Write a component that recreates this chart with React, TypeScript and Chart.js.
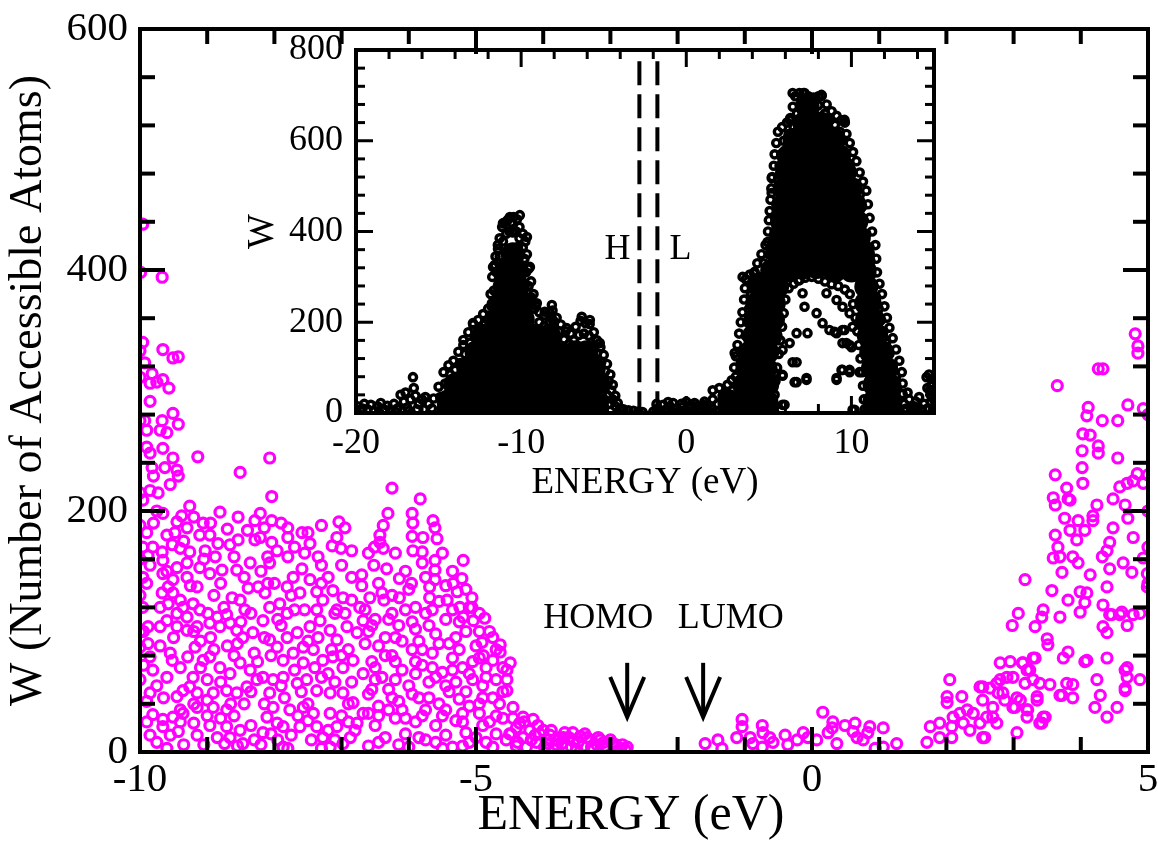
import React, { useEffect, useRef } from 'react';
import { Chart, registerables } from 'chart.js';

Chart.register(...registerables);

const SERIF = "'Liberation Serif', 'Times New Roman', Times, serif";

// ---------------- main plot: axes ----------------
const mainXMajor = [-10, -5, 0, 5];
const mainXMinor = [-9, -8, -7, -6, -4, -3, -2, -1, 1, 2, 3, 4];
const mainYMajor = [0, 200, 400, 600];
const mainYMinor = [40, 80, 120, 160, 240, 280, 320, 360, 440, 480, 520, 560];
const mainXTitle = 'ENERGY (eV)';

// HOMO / LUMO markers (energy in eV, W positions)
const homoArrowE = -2.75;
const lumoArrowE = -1.62;
const arrowTailW = 74;
const arrowTipW = 29;
const homoTextE = -3.18;
const lumoTextE = -1.21;
const levelTextW = 103;

// ---------------- main plot: data [energy, W] ----------------
const leftHigh: number[][] = [
  [-9.96, 438], [-9.99, 398], [-9.67, 394], [-9.96, 340], [-10.0, 333], [-9.66, 334], [-9.51, 327], [-9.43, 328],
  [-9.93, 323], [-10.0, 311], [-9.82, 314], [-9.85, 306], [-9.66, 309], [-9.57, 302], [-9.75, 307], [-9.85, 291],
  [-10.0, 275], [-9.93, 275], [-9.67, 275], [-9.51, 281], [-9.43, 272], [-9.9, 267], [-9.7, 267], [-9.6, 265],
  [-9.9, 253], [-9.66, 252], [-9.85, 248], [-9.51, 244], [-9.14, 245], [-8.07, 244], [-8.51, 232], [-9.82, 236],
  [-9.63, 236], [-9.45, 234], [-9.43, 229], [-9.8, 229], [-9.55, 222], [-10.0, 215], [-9.85, 217], [-9.73, 215],
  [-9.96, 209], [-9.75, 200], [-9.66, 198], [-8.04, 212],
];

const leftCloud: number[][] = [
  [-9.26, 204], [-9.38, 196], [-9.45, 191], [-9.06, 190], [-8.81, 199], [-8.54, 195], [-8.29, 192], [-8.21, 198],
  [-8.04, 192], [-7.8, 186], [-7.59, 182], [-7.5, 182], [-7.04, 191], [-10.0, 188], [-9.9, 182], [-9.48, 182],
  [-9.3, 186], [-9.11, 180], [-8.96, 180], [-8.84, 173], [-8.66, 172], [-8.54, 176], [-8.29, 176], [-8.21, 178],
  [-8.04, 174], [-7.8, 178], [-7.47, 173], [-7.14, 171], [-7.07, 178], [-6.85, 167], [-7.01, 169], [-7.35, 162],
  [-7.96, 167], [-8.1, 162], [-8.07, 157], [-8.36, 157], [-8.56, 151], [-8.78, 151], [-8.88, 162], [-9.03, 167],
  [-9.26, 166], [-9.4, 169], [-9.52, 172], [-9.67, 166], [-9.81, 170], [-9.96, 170], [-9.88, 163], [-9.96, 145],
  [-9.66, 159], [-9.45, 153], [-9.3, 157], [-9.11, 153], [-8.96, 148], [-9.66, 148], [-9.51, 143], [-9.3, 145],
  [-9.15, 137], [-9.58, 137], [-9.67, 132], [-9.51, 132], [-9.4, 126], [-9.58, 123], [-9.36, 120], [-9.21, 123],
  [-9.11, 118], [-8.99, 115], [-8.85, 112], [-8.71, 114], [-8.63, 128], [-8.51, 126], [-8.44, 118], [-8.39, 136],
  [-8.24, 137], [-8.14, 132], [-8.07, 120], [-7.92, 123], [-7.81, 137], [-7.72, 145], [-7.59, 152], [-7.47, 143],
  [-7.62, 132], [-7.37, 133], [-7.28, 126], [-7.13, 134], [-6.98, 128], [-6.85, 126], [-6.73, 120], [-7.07, 118],
  [-7.37, 118], [-7.81, 115], [-9.96, 120], [-9.88, 104], [-9.7, 104], [-9.6, 109], [-9.45, 104], [-9.3, 101],
  [-9.15, 104], [-8.96, 107], [-8.81, 104], [-8.66, 107], [-8.56, 101], [-8.47, 95], [-8.32, 99], [-8.17, 109],
  [-8.07, 93], [-7.96, 87], [-7.81, 95], [-7.66, 99], [-7.57, 87], [-7.47, 104], [-7.32, 109], [-7.17, 101],
  [-7.07, 93], [-6.92, 104], [-6.77, 99], [-6.68, 109], [-7.87, 76], [-7.72, 82], [-7.57, 74], [-7.42, 85],
  [-7.28, 76], [-7.13, 79], [-6.98, 70], [-6.83, 76], [-6.68, 65], [-10.0, 87], [-9.88, 90], [-9.85, 79],
  [-9.81, 68], [-9.55, 82], [-9.52, 76], [-9.29, 79], [-9.18, 87], [-9.06, 76], [-8.96, 79], [-8.81, 70],
  [-8.66, 65], [-8.51, 74], [-8.36, 68], [-8.26, 60], [-8.41, 54], [-8.56, 49], [-8.71, 51], [-8.91, 49],
  [-9.0, 43], [-9.15, 49], [-9.26, 54], [-9.21, 62], [-9.36, 51], [-9.45, 46], [-9.15, 37], [-8.91, 37],
  [-8.71, 35], [-9.36, 32], [-9.51, 29], [-9.66, 27], [-9.81, 31], [-9.66, 21], [-9.43, 17], [-9.15, 14],
  [-8.96, 22], [-8.71, 21], [-8.51, 18], [-8.66, 12], [-8.47, 7], [-8.74, 7], [-9.85, 49], [-8.07, 49],
  [-8.02, 37], [-8.11, 29], [-7.96, 24], [-8.17, 16], [-7.87, 21], [-7.77, 35], [-7.62, 21], [-7.57, 37],
  [-7.42, 32], [-7.37, 21], [-7.28, 12], [-7.17, 32], [-7.07, 21], [-6.98, 7], [-6.87, 12], [-6.77, 24],
  [-6.68, 32], [-6.83, 41], [-6.98, 49], [-7.17, 49], [-7.37, 51], [-7.52, 60], [-7.66, 57], [-7.87, 62],
  [-8.02, 60], [-8.17, 62], [-7.17, 4], [-7.87, 4], [-10.0, 160], [-10.0, 130], [-10.0, 100], [-10.0, 60],
  [-9.9, 140], [-9.7, 120], [-9.5, 95], [-9.3, 112], [-9.1, 92], [-8.9, 130], [-8.7, 88], [-8.5, 108],
  [-8.3, 82], [-8.1, 140], [-7.9, 105], [-7.7, 118], [-7.5, 92], [-7.3, 140], [-7.1, 115], [-6.9, 85],
  [-9.95, 72], [-9.75, 55], [-9.6, 62], [-9.4, 70], [-9.2, 40], [-9.0, 60], [-8.8, 58], [-8.6, 80],
  [-8.45, 40], [-8.25, 75], [-8.05, 80], [-7.85, 45], [-7.7, 68], [-7.5, 40], [-7.3, 62], [-7.1, 58],
  [-6.9, 40], [-9.9, 25], [-9.75, 8], [-9.55, 14], [-9.35, 6], [-9.2, 24], [-9.0, 30], [-8.85, 12],
  [-8.6, 30], [-8.35, 22], [-8.2, 6], [-7.95, 10], [-7.75, 14], [-7.5, 26], [-7.2, 18], [-7.0, 30],
  [-6.8, 18], [-9.8, 190], [-9.6, 180], [-9.35, 175], [-9.2, 195], [-8.95, 190], [-8.7, 185], [-8.4, 184],
  [-8.15, 186], [-7.9, 190], [-7.7, 170], [-7.3, 188], [-6.95, 186], [-9.85, 155], [-9.6, 150], [-9.25, 138],
  [-9.05, 160], [-8.8, 140], [-8.6, 162], [-8.45, 145], [-8.2, 150], [-8.0, 140], [-7.8, 162], [-7.55, 165],
  [-7.3, 155], [-7.2, 145], [-7.0, 155], [-6.85, 145],
  [-9.95, 100], [-9.7, 88], [-9.45, 115], [-9.2, 100], [-8.95, 95], [-8.75, 120], [-8.55, 90], [-8.35, 115],
  [-8.15, 95], [-7.95, 110], [-7.75, 130], [-7.55, 118], [-7.35, 95], [-7.15, 85], [-6.95, 115],
  [-9.9, 42], [-9.65, 45], [-9.4, 35], [-9.1, 70], [-8.9, 85], [-8.65, 40], [-8.35, 50], [-8.15, 40],
  [-7.9, 55], [-7.6, 50], [-7.4, 70], [-7.2, 65], [-7.0, 80], [-6.85, 58],
  [-9.85, 14], [-9.6, 3], [-9.4, 25], [-9.05, 6], [-8.8, 28], [-8.55, 5], [-8.3, 10], [-8.05, 15],
  [-7.8, 3], [-7.65, 30], [-7.45, 10], [-7.3, 3], [-7.1, 10], [-6.9, 25],
];

const midCloud: number[][] = [
  [-6.25, 219], [-5.83, 210], [-6.31, 198], [-6.38, 188], [-6.43, 180], [-6.43, 174], [-6.51, 170], [-6.38, 169],
  [-5.95, 198], [-5.94, 190], [-5.95, 179], [-5.79, 178], [-5.64, 192], [-5.61, 186], [-5.58, 177], [-5.94, 167],
  [-5.8, 166], [-5.8, 157], [-5.61, 159], [-5.19, 159], [-5.21, 144], [-5.61, 151], [-5.61, 143], [-5.34, 140],
  [-5.28, 133], [-5.06, 128], [-5.06, 120], [-4.87, 111], [-6.7, 147], [-6.7, 138], [-6.52, 155], [-6.33, 152],
  [-6.14, 144], [-5.96, 140], [-5.69, 137], [-5.69, 128], [-6.14, 128], [-6.58, 128], [-6.37, 126], [-5.43, 126],
  [-5.24, 120], [-5.19, 112], [-5.04, 109], [-4.91, 91], [-4.89, 80], [-4.64, 89], [-4.64, 83], [-4.49, 74],
  [-4.54, 68], [-4.75, 76], [-4.54, 60], [-4.54, 51], [-4.45, 37], [-4.3, 29], [-4.15, 27], [-4.0, 18],
  [-6.6, 100], [-6.45, 88], [-6.3, 110], [-6.2, 95], [-6.05, 118], [-5.9, 102], [-5.75, 115], [-5.6, 98],
  [-5.45, 110], [-5.3, 95], [-5.15, 100], [-5.0, 88], [-4.85, 70], [-6.55, 75], [-6.4, 62], [-6.25, 80],
  [-6.1, 68], [-5.95, 85], [-5.8, 72], [-5.65, 82], [-5.5, 66], [-5.35, 78], [-5.2, 70], [-5.05, 60],
  [-4.9, 55], [-4.75, 45], [-6.6, 48], [-6.45, 38], [-6.3, 52], [-6.15, 42], [-6.0, 55], [-5.85, 45],
  [-5.7, 58], [-5.55, 40], [-5.4, 50], [-5.25, 44], [-5.1, 38], [-4.95, 32], [-4.8, 25], [-4.65, 40],
  [-6.5, 22], [-6.35, 12], [-6.2, 28], [-6.05, 15], [-5.9, 25], [-5.75, 10], [-5.6, 22], [-5.45, 14],
  [-5.3, 26], [-5.15, 16], [-5.0, 12], [-4.85, 8], [-4.7, 15], [-4.55, 10], [-6.6, 5], [-6.0, 4],
  [-5.5, 3], [-5.2, 5], [-4.4, 5],
  [-6.5, 110], [-6.35, 95], [-6.15, 105], [-5.85, 92], [-5.7, 105], [-5.4, 90], [-5.25, 108], [-4.95, 100],
  [-4.75, 95], [-6.5, 60], [-6.2, 75], [-5.9, 65], [-5.6, 62], [-5.3, 58], [-5.05, 75], [-4.7, 60],
  [-6.45, 30], [-6.1, 35], [-5.8, 30], [-5.5, 30], [-5.2, 32], [-4.9, 22], [-4.6, 28], [-6.6, 165],
  [-6.2, 165], [-6.05, 150], [-5.5, 165], [-5.35, 150], [-5.9, 120], [-5.55, 125], [-6.45, 140], [-6.25, 130],
  [-6.65, 118], [-6.4, 132], [-6.0, 135], [-5.75, 145], [-5.45, 138], [-5.15, 135], [-4.95, 115],
  [-6.55, 105], [-6.25, 115], [-5.95, 108], [-5.65, 118], [-5.35, 118], [-5.1, 120], [-4.8, 100],
  [-6.65, 90], [-6.35, 80], [-6.1, 92], [-5.8, 85], [-5.55, 90], [-5.25, 85], [-4.95, 78], [-4.7, 85],
  [-6.5, 70], [-6.2, 60], [-5.9, 75], [-5.65, 70], [-5.35, 68], [-5.1, 65], [-4.85, 62], [-4.6, 70],
  [-6.55, 52], [-6.25, 45], [-5.95, 48], [-5.7, 45], [-5.45, 55], [-5.15, 50], [-4.9, 45], [-4.6, 50],
  [-6.6, 32], [-6.3, 35], [-6.05, 28], [-5.75, 35], [-5.45, 35], [-5.2, 25], [-4.95, 40], [-4.7, 30],
  [-6.45, 8], [-6.15, 6], [-5.85, 12], [-5.6, 8], [-5.35, 4], [-5.1, 8], [-4.75, 4], [-4.5, 15],
];

const tailBand: number[][] = [
  [-3.75, 12], [-3.56, 16], [-3.35, 12], [-3.15, 10], [-2.96, 7], [-2.75, 4], [-4.4, 20], [-4.3, 12],
  [-4.2, 18], [-4.1, 8], [-4.05, 15], [-3.95, 10], [-3.9, 14], [-3.8, 6], [-3.7, 12], [-3.65, 4],
  [-3.55, 9], [-3.45, 13], [-3.4, 5], [-3.3, 10], [-3.2, 6], [-3.1, 8], [-3.05, 3], [-2.95, 5],
  [-2.85, 3], [-4.25, 4], [-3.85, 2], [-3.5, 2], [-3.25, 2], [-2.9, 1], [-4.45, 28], [-4.35, 24],
  [-4.48, 15], [-4.38, 8], [-4.28, 25], [-4.18, 10], [-4.08, 22], [-3.98, 4], [-3.88, 18], [-3.78, 10],
  [-3.68, 16], [-3.58, 4], [-3.48, 8], [-3.38, 15], [-3.28, 4], [-3.18, 12], [-3.08, 5], [-3.0, 10],
  [-2.92, 6], [-2.82, 6], [-2.78, 2], [-3.62, 12], [-3.72, 7], [-3.92, 7], [-4.12, 14],
];

const gapBand: number[][] = [
  [-1.59, 7], [-1.4, 10], [-1.34, 3], [-1.12, 12], [-1.04, 27], [-1.04, 21], [-0.92, 12], [-0.88, 7],
  [-0.74, 22], [-0.73, 16], [-0.63, 12], [-0.58, 8], [-0.74, 4], [-0.4, 14], [-0.36, 6], [-0.22, 10],
  [-0.13, 16], [-0.06, 12], [0.07, 10], [0.16, 33], [0.24, 16], [0.31, 25], [0.3, 20], [0.37, 7],
  [0.49, 22], [0.64, 24], [0.61, 17], [0.67, 12], [0.76, 10], [0.86, 21], [0.83, 16], [0.94, 3],
  [1.06, 20], [1.06, 4], [1.26, 7],
];

const rightCloud: number[][] = [
  [1.71, 8], [1.76, 21], [1.9, 24], [1.9, 12], [2.01, 46], [2.01, 41], [2.08, 12], [2.05, 60],
  [2.23, 46], [2.1, 29], [2.2, 32], [2.25, 24], [2.31, 35], [2.35, 18], [2.4, 32], [2.5, 54],
  [2.54, 43], [2.57, 12], [2.6, 29], [2.69, 37], [2.69, 29], [2.75, 57], [2.8, 74], [2.84, 49],
  [2.9, 62], [2.95, 75], [2.99, 37], [3.05, 16], [3.1, 43], [3.13, 74], [3.17, 57], [3.21, 35],
  [3.24, 68], [3.32, 78], [3.29, 60], [3.39, 57], [3.35, 46], [3.42, 24], [3.47, 29], [3.54, 56],
  [3.72, 47], [3.79, 57], [3.74, 78], [3.81, 83], [3.88, 56], [3.88, 45], [4.06, 75], [4.21, 37],
  [4.24, 60], [4.29, 47], [4.39, 29], [4.39, 78], [4.54, 37], [4.66, 68], [4.66, 51], [4.69, 62],
  [4.88, 60], [3.07, 115], [2.98, 105], [3.32, 104], [3.44, 118], [3.42, 112], [3.5, 94], [3.51, 89],
  [3.69, 112], [3.99, 116], [4.33, 122], [4.33, 104], [4.39, 99], [4.46, 114], [4.61, 116], [4.69, 105],
  [4.78, 114], [4.88, 115], [4.81, 347], [4.85, 337], [4.85, 331], [4.26, 318], [4.33, 318], [3.65, 304],
  [4.11, 286], [4.09, 279], [4.32, 275], [4.55, 275], [4.7, 288], [4.93, 285], [4.03, 264], [4.14, 263],
  [4.02, 250], [4.26, 254], [4.26, 248], [4.55, 244], [4.02, 236], [4.03, 223], [3.62, 230], [3.79, 219],
  [3.59, 211], [3.62, 205], [3.81, 210], [3.84, 209], [3.76, 194], [3.96, 192], [3.84, 184], [3.94, 176],
  [4.06, 184], [4.18, 192], [4.24, 205], [4.18, 196], [4.48, 210], [4.58, 220], [4.69, 223], [4.78, 225],
  [4.84, 231], [4.93, 223], [4.66, 205], [4.7, 194], [4.78, 178], [4.48, 186], [4.43, 174], [4.39, 167],
  [4.32, 162], [4.43, 152], [4.63, 157], [4.76, 149], [4.93, 161], [4.99, 148], [4.99, 137], [3.62, 180],
  [3.66, 170], [3.69, 162], [3.59, 161], [3.88, 162], [3.96, 157], [3.72, 149], [3.57, 134], [3.81, 126],
  [3.99, 133], [4.09, 132], [4.06, 124], [4.14, 147], [4.39, 137], [4.43, 114], [4.58, 114], [3.17, 143],
  [4.09, 76], [4.69, 70], [4.66, 53], [3.69, 47], [3.29, 78], [3.14, 74], [3.2, 68], [2.99, 62],
  [2.8, 60], [2.54, 54], [2.65, 53], [2.77, 49], [2.87, 43], [3.05, 45], [3.35, 43], [3.02, 37],
  [3.2, 35], [3.2, 29], [3.44, 29], [3.39, 24], [2.54, 12], [2.75, 24], [2.5, 24], [2.08, 21],
  [5.0, 280], [5.0, 230], [5.0, 200], [5.0, 170], [5.0, 140],
];

// ---------------- inset: axes ----------------
const insetXMajor = [-20, -10, 0, 10];
const insetXMinor = [-18, -16, -14, -12, -8, -6, -4, -2, 2, 4, 6, 8, 12, 14];
const insetYMajor = [0, 200, 400, 600, 800];
const insetYMinor = [40, 80, 120, 160, 240, 280, 320, 360, 440, 480, 520, 560, 640, 680, 720, 760];
const homoLineE = -2.84;
const lumoLineE = -1.75;
const levelLineTopW = 775;
const levelLabelW = 340;

// ---------------- inset: data [energy, W] ----------------
const insetBaseline: number[][] = [
  [-19.9, 15], [-19.7, 5], [-19.5, 20], [-19.3, 8], [-19.1, 18], [-18.9, 5], [-18.7, 15], [-18.5, 22],
  [-18.3, 8], [-18.1, 16], [-17.9, 5], [-17.7, 20], [-17.5, 10], [-17.3, 40], [-17.1, 25], [-16.9, 12],
  [-16.7, 30], [-16.55, 79], [-16.5, 55], [-16.4, 38], [-16.2, 20], [-16.0, 30], [-15.8, 35], [-15.6, 20],
  [-15.4, 10], [-16.8, 5], [-17.6, 3], [-18.6, 2], [-19.6, 10], [-20.0, 8], [-15.9, 8], [-17.0, 45],
  [-16.3, 8], [-2.0, 3], [-1.7, 10], [-1.4, 18], [-1.2, 8], [-1.0, 15], [-0.8, 22], [-0.6, 10],
  [-0.4, 5], [-0.2, 14], [0.0, 25], [0.2, 12], [0.4, 5], [0.6, 15], [0.8, 8], [1.0, 18],
  [1.2, 10], [1.4, 4], [-1.5, 2], [0.1, 2], [0.9, 1], [-1.8, 20], [-1.1, 24], [-0.3, 20],
  [0.5, 22], [1.1, 25], [1.3, 18], [-0.9, 5], [0.3, 18],
];

const insetLeftEdge: number[][] = [
  [-15.3, 32], [-15.0, 58], [-14.7, 90], [-14.4, 105], [-14.1, 115], [-13.8, 135], [-13.5, 150], [-13.2, 178],
  [-12.9, 195], [-12.6, 205], [-12.3, 218], [-12.0, 230], [-11.85, 262], [-11.75, 300], [-11.7, 322], [-11.55, 345],
  [-11.4, 362], [-11.3, 385], [-11.15, 410], [-11.0, 420], [-10.8, 426], [-10.6, 420], [-10.45, 432], [-10.25, 427],
  [-10.1, 410], [-9.9, 395], [-9.75, 378], [-9.65, 350], [-9.55, 318], [-9.4, 290], [-9.25, 262], [-9.1, 236],
  [-8.9, 222], [-8.6, 215], [-8.3, 222], [-8.1, 226], [-7.85, 210], [-7.6, 195], [-7.3, 180], [-7.0, 175],
  [-6.7, 190], [-6.4, 203], [-6.1, 198], [-5.85, 196], [-5.6, 178], [-5.4, 160], [-5.2, 145], [-5.0, 128],
  [-4.8, 108], [-4.6, 85], [-4.45, 62], [-4.3, 38], [-4.15, 22], [-4.0, 10], [-3.8, 8], [-3.5, 6],
  [-3.2, 5], [-2.9, 3], [-2.65, 2],
  [-14.9, 35], [-14.6, 65], [-14.3, 85], [-14.0, 95], [-13.7, 110], [-13.4, 130], [-13.1, 155], [-12.8, 170],
  [-12.5, 180], [-12.2, 195], [-12.0, 205], [-11.8, 235], [-11.65, 270], [-11.5, 310], [-11.3, 345], [-11.1, 378],
  [-10.9, 395], [-10.7, 400], [-10.5, 398], [-10.3, 400], [-10.1, 385], [-9.9, 365], [-9.8, 340], [-9.7, 310],
  [-9.55, 280], [-9.4, 255], [-9.2, 230], [-8.9, 200], [-8.6, 192], [-8.3, 198], [-8.0, 200], [-7.7, 180],
  [-7.4, 162], [-7.1, 152], [-6.8, 160], [-6.5, 172], [-6.2, 175], [-5.9, 170], [-5.65, 150], [-5.4, 132],
  [-5.15, 112], [-4.9, 92], [-4.7, 70], [-4.55, 50], [-4.45, 30], [-4.3, 15], [-4.6, 20], [-4.8, 40],
  [-11.41, 370], [-11.1, 418], [-10.68, 432], [-10.08, 436], [-9.65, 388], [-10.2, 366], [-11.6, 326], [-9.47, 322],
  [-11.77, 242], [-9.05, 242], [-8.57, 223], [-8.14, 238], [-8.08, 205], [-7.24, 187], [-6.33, 212], [-5.84, 205],
  [-5.24, 154], [-12.92, 198], [-13.5, 161],
];

const insetRightEdge: number[][] = [
  [1.5, 10], [1.6, 30], [1.6, 50], [1.9, 20], [2.0, 55], [2.2, 38], [2.3, 10], [2.5, 62],
  [2.6, 30], [2.75, 72], [2.9, 100], [3.0, 125], [3.1, 150], [3.2, 175], [3.3, 200], [3.4, 222],
  [3.5, 250], [3.55, 275], [3.6, 295], [3.85, 305], [4.1, 308], [4.3, 330], [4.55, 350], [4.8, 370],
  [4.95, 400], [5.0, 425], [5.05, 445], [5.1, 470], [5.15, 495], [5.2, 520], [5.3, 545], [5.35, 570],
  [5.45, 595], [5.55, 620], [5.8, 630], [6.1, 640], [6.3, 650], [6.45, 675], [6.6, 698], [6.85, 705],
  [7.1, 705], [7.4, 698], [7.7, 695], [8.0, 698], [8.2, 699], [8.5, 680], [8.8, 665], [9.1, 655],
  [9.4, 645], [9.6, 640], [9.7, 615], [9.9, 595], [10.1, 575], [10.3, 555], [10.5, 530], [10.7, 510],
  [10.9, 490], [11.0, 460], [11.1, 430], [11.25, 400], [11.45, 370], [11.5, 340], [11.55, 310], [11.7, 285],
  [11.85, 262], [12.0, 235], [12.15, 210], [12.3, 188], [12.5, 165], [12.7, 140], [12.9, 115], [13.05, 90],
  [13.1, 65], [13.1, 42], [13.2, 20], [13.5, 30], [13.8, 15], [14.1, 35], [14.4, 20], [14.6, 55],
  [14.7, 85], [14.8, 40], [14.9, 65], [15.0, 30], [14.95, 10], [14.3, 5], [13.6, 8], [14.55, 79],
  [13.3, 10], [13.7, 12], [13.9, 25], [14.2, 8], [14.6, 10], [14.8, 25], [15.0, 12], [13.4, 45],
  [14.0, 5], [14.85, 60], [14.75, 50],
  [2.0, 5], [2.4, 45], [2.8, 50], [3.0, 80], [3.3, 110], [3.45, 140], [3.6, 170], [3.7, 200],
  [3.8, 230], [3.9, 260], [4.0, 285], [4.4, 300], [4.7, 330], [5.0, 350], [5.2, 375], [5.35, 400],
  [5.4, 430], [5.45, 460], [5.5, 490], [5.55, 515], [5.65, 545], [5.75, 570], [5.9, 600], [6.2, 615],
  [6.5, 630], [6.7, 660], [6.9, 680], [7.2, 682], [7.6, 675], [8.0, 678], [8.4, 660], [8.7, 645],
  [9.0, 635], [9.3, 620], [9.4, 600], [9.6, 575], [9.85, 550], [10.05, 530], [10.3, 505], [10.5, 480],
  [10.65, 455], [10.75, 425], [10.9, 395], [11.1, 365], [11.15, 335], [11.2, 305], [11.35, 280], [11.5, 255],
  [11.65, 230], [11.8, 205], [11.95, 180], [12.1, 155], [12.3, 130], [12.5, 105], [12.7, 80], [12.75, 55],
  [12.75, 30], [12.9, 8],
  [2.93, 132], [3.41, 300], [4.14, 311], [4.92, 377], [5.17, 485], [5.17, 518], [6.44, 705], [7.16, 705],
  [8.19, 701], [9.58, 646], [6.26, 646],
];

const insetHollow: number[][] = [
  [5.3, 10], [5.35, 40], [5.4, 70], [5.5, 100], [5.6, 130], [5.7, 160], [5.8, 190], [5.9, 220],
  [6.0, 250], [6.2, 275], [6.5, 285], [6.8, 292], [7.2, 298], [7.6, 300], [8.0, 296], [8.4, 290],
  [8.8, 284], [9.2, 280], [9.6, 272], [9.9, 262], [10.1, 240], [10.25, 210],
  [10.35, 180], [10.45, 150], [10.55, 120], [10.65, 90], [10.7, 60], [10.75, 30], [10.8, 8],
  [6.26, 322], [6.86, 293], [7.04, 264], [7.16, 234], [7.89, 220], [8.25, 198], [8.67, 183], [9.1, 176],
  [9.58, 183], [10.07, 190], [9.89, 220], [9.46, 234], [9.1, 249], [8.49, 264], [7.34, 176], [6.68, 176],
  [6.26, 154], [5.83, 139], [6.68, 112], [5.35, 88], [5.83, 84], [6.56, 68], [7.28, 73], [9.4, 95],
  [9.89, 90], [10.49, 90], [9.1, 73], [9.46, 154], [10.01, 145], [5.95, 18], [10.19, 7], [6.44, 112],
  [5.83, 82], [6.68, 68], [7.28, 77], [9.1, 77], [9.46, 95], [9.89, 95], [9.7, 154], [9.89, 150],
  [5.83, 18], [5.35, 0], [10.07, 7], [8.98, 179], [9.46, 183],
];

// dense interior of the inset clouds (solid regions)
const insetCore: number[][] = [
  [-14.4, 8], [-13.4, 8], [-12.4, 8], [-11.4, 8], [-10.4, 8], [-9.4, 8], [-8.4, 8], [-7.4, 8], [-6.4, 8], [-5.4, 8],
  [-14.4, 26], [-13.4, 26], [-12.4, 26], [-11.4, 26], [-10.4, 26], [-9.4, 26], [-8.4, 26], [-7.4, 26], [-6.4, 26], [-5.4, 26],
  [-14.0, 62], [-13.0, 62], [-12.0, 62], [-11.0, 62], [-10.0, 62], [-9.0, 62], [-8.0, 62], [-7.0, 62], [-6.0, 62], [-5.3, 62],
  [-13.2, 98], [-12.2, 98], [-11.2, 98], [-10.2, 98], [-9.2, 98], [-8.2, 98], [-7.2, 98], [-6.2, 98], [-5.6, 98],
  [-12.7, 134], [-11.7, 134], [-10.7, 134], [-9.7, 134], [-8.7, 134], [-7.7, 134], [-6.7, 134], [-6.05, 134],
  [-12.3, 170], [-11.3, 170], [-10.3, 170], [-9.3, 170], [-8.3, 170],
  [-11.4, 206], [-10.4, 206], [-9.9, 206], [-11.1, 242], [-10.4, 242], [-9.95, 242],
  [-11.0, 278], [-10.2, 278], [-10.9, 314], [-10.3, 314], [-10.5, 350],
  [2.6, 8], [3.6, 8], [4.6, 8], [11.4, 8], [12.3, 8],
  [2.6, 26], [3.6, 26], [4.6, 26], [4.85, 26], [11.4, 26], [12.3, 26],
  [3.5, 62], [4.5, 62], [4.9, 62], [11.4, 62], [12.3, 62],
  [3.7, 98], [4.8, 98], [11.3, 98], [12.1, 98],
  [3.9, 134], [4.9, 134], [11.2, 134], [11.85, 134],
  [4.1, 170], [5.1, 170], [11.05, 170], [11.5, 170],
  [4.2, 206], [5.25, 206], [10.95, 206], [11.3, 206],
  [4.3, 242], [5.3, 242], [10.9, 242], [11.1, 242],
  [4.5, 278], [5.5, 278], [10.9, 278],
  [5.2, 314], [6.05, 314], [7.0, 320], [7.9, 322], [9.0, 314], [10.0, 314], [10.8, 314],
  [5.6, 350], [6.15, 350], [7.3, 352], [8.0, 352], [8.8, 350], [9.8, 350], [10.7, 350],
  [5.7, 386], [6.7, 386], [7.7, 386], [8.7, 386], [9.7, 386], [10.45, 386],
  [5.8, 422], [6.8, 422], [7.8, 422], [8.8, 422], [9.8, 422], [10.3, 422],
  [5.9, 458], [6.9, 458], [7.9, 458], [8.9, 458], [9.9, 458], [10.2, 458],
  [5.95, 494], [6.95, 494], [7.95, 494], [8.95, 494], [9.95, 494],
  [6.1, 530], [7.1, 530], [8.1, 530], [9.1, 530], [9.6, 530],
  [6.2, 566], [7.2, 566], [8.2, 566], [9.25, 566],
  [6.55, 602], [7.55, 602], [8.55, 602], [8.95, 602],
  [7.15, 638], [8.15, 638], [7.35, 674],
];

const toXY = (arr: number[][]) => arr.map(([x, y]) => ({ x, y }));

type FrameCfg = {
  xMajor: number[]; xMinor: number[]; yMajor: number[]; yMinor: number[];
  majorLen: number; minorLen: number; tickWidth: number; frameWidth: number;
};

function framePlugin(id: string, cfg: FrameCfg) {
  return {
    id,
    afterDatasetsDraw(chart: any) {
      const { ctx, chartArea: a } = chart;
      const xs = chart.scales.x;
      const ys = chart.scales.y;
      ctx.save();
      ctx.strokeStyle = '#000';
      ctx.lineCap = 'butt';
      ctx.lineWidth = cfg.tickWidth;
      const seg = (x1: number, y1: number, x2: number, y2: number) => {
        ctx.beginPath(); ctx.moveTo(x1, y1); ctx.lineTo(x2, y2); ctx.stroke();
      };
      const xsets: [number[], number][] = [[cfg.xMajor, cfg.majorLen], [cfg.xMinor, cfg.minorLen]];
      for (const [vals, len] of xsets) {
        for (const v of vals) {
          const p = xs.getPixelForValue(v);
          seg(p, a.bottom, p, a.bottom - len);
          seg(p, a.top, p, a.top + len);
        }
      }
      const ysets: [number[], number][] = [[cfg.yMajor, cfg.majorLen], [cfg.yMinor, cfg.minorLen]];
      for (const [vals, len] of ysets) {
        for (const v of vals) {
          const p = ys.getPixelForValue(v);
          seg(a.left, p, a.left + len, p);
          seg(a.right, p, a.right - len, p);
        }
      }
      ctx.lineWidth = cfg.frameWidth;
      ctx.lineJoin = 'miter';
      ctx.strokeRect(a.left, a.top, a.right - a.left, a.bottom - a.top);
      ctx.restore();
    },
  };
}

const mainAnnotations = {
  id: 'mainAnnotations',
  afterDatasetsDraw(chart: any) {
    const { ctx, chartArea: a } = chart;
    const xs = chart.scales.x;
    const ys = chart.scales.y;
    ctx.save();
    ctx.fillStyle = '#000';
    ctx.strokeStyle = '#000';
    ctx.font = `36px ${SERIF}`;
    ctx.textAlign = 'center';
    ctx.textBaseline = 'alphabetic';
    ctx.fillText('HOMO', xs.getPixelForValue(homoTextE), ys.getPixelForValue(levelTextW));
    ctx.fillText('LUMO', xs.getPixelForValue(lumoTextE), ys.getPixelForValue(levelTextW));
    // x axis title, sitting slightly left of the plot centre as in the original
    ctx.font = `50px ${SERIF}`;
    ctx.textBaseline = 'middle';
    ctx.fillText(mainXTitle, (a.left + a.right) / 2 - 13, chart.height - 25);
    ctx.lineWidth = 4;
    ctx.lineJoin = 'miter';
    for (const e of [homoArrowE, lumoArrowE]) {
      const x = xs.getPixelForValue(e);
      const y0 = ys.getPixelForValue(arrowTailW);
      const y1 = ys.getPixelForValue(arrowTipW);
      ctx.beginPath(); ctx.moveTo(x, y0); ctx.lineTo(x, y1 - 3); ctx.stroke();
      ctx.beginPath(); ctx.moveTo(x - 17, y1 - 40); ctx.lineTo(x, y1); ctx.lineTo(x + 17, y1 - 40); ctx.stroke();
    }
    ctx.restore();
  },
};

const insetAnnotations = {
  id: 'insetAnnotations',
  afterDatasetsDraw(chart: any) {
    const { ctx } = chart;
    const xs = chart.scales.x;
    const ys = chart.scales.y;
    ctx.save();
    ctx.fillStyle = '#000';
    ctx.font = `36px ${SERIF}`;
    ctx.textBaseline = 'alphabetic';
    const y = ys.getPixelForValue(levelLabelW);
    ctx.textAlign = 'right';
    ctx.fillText('H', xs.getPixelForValue(homoLineE) - 9, y);
    ctx.textAlign = 'left';
    ctx.fillText('L', xs.getPixelForValue(lumoLineE) + 12, y);
    ctx.restore();
  },
};

function fixAxis(size: { width?: number; height?: number }) {
  return (s: any) => {
    if (size.width !== undefined) s.width = size.width;
    if (size.height !== undefined) s.height = size.height;
    s.paddingLeft = 0; s.paddingRight = 0; s.paddingTop = 0; s.paddingBottom = 0;
  };
}

export default function App() {
  const mainRef = useRef<HTMLCanvasElement>(null);
  const insetRef = useRef<HTMLCanvasElement>(null);

  useEffect(() => {
    const magenta = [...leftHigh, ...leftCloud, ...midCloud, ...tailBand, ...gapBand, ...rightCloud];
    const main = new Chart(mainRef.current as HTMLCanvasElement, {
      type: 'scatter',
      data: {
        datasets: [
          {
            label: 'W',
            data: toXY(magenta),
            pointRadius: 5,
            pointHoverRadius: 5,
            pointBorderWidth: 3.2,
            pointBorderColor: '#ff00ff',
            pointBackgroundColor: 'rgba(0,0,0,0)',
            borderColor: '#ff00ff',
            backgroundColor: 'rgba(0,0,0,0)',
          },
        ],
      },
      options: {
        responsive: false,
        animation: false,
        devicePixelRatio: 1,
        events: [],
        layout: { padding: { top: 29, right: 10, left: 0, bottom: 0 } },
        plugins: { legend: { display: false }, tooltip: { enabled: false } },
        scales: {
          x: {
            type: 'linear', min: -10, max: 5,
            afterBuildTicks: (s: any) => { s.ticks = mainXMajor.map((v) => ({ value: v })); },
            ticks: { font: { family: SERIF, size: 41, lineHeight: 1 }, color: '#000', padding: 8, maxRotation: 0, autoSkip: false, callback: (v: any) => String(v) },
            grid: { display: false, drawTicks: false },
            border: { display: false },
            title: { display: false },
            afterFit: fixAxis({ height: 89 }),
          },
          y: {
            type: 'linear', min: 0, max: 600,
            afterBuildTicks: (s: any) => { s.ticks = mainYMajor.map((v) => ({ value: v })); },
            ticks: { font: { family: SERIF, size: 41, lineHeight: 1 }, color: '#000', padding: 12, autoSkip: false, callback: (v: any) => String(v) },
            grid: { display: false, drawTicks: false },
            border: { display: false },
            title: { display: true, text: 'W (Number of Accessible Atoms)', color: '#000', font: { family: SERIF, size: 46, lineHeight: 1 }, padding: { top: 6, bottom: 0 } },
            afterFit: fixAxis({ width: 140 }),
          },
        },
      },
      plugins: [
        framePlugin('mainFrame', { xMajor: mainXMajor, xMinor: mainXMinor, yMajor: mainYMajor, yMinor: mainYMinor, majorLen: 25, minorLen: 15, tickWidth: 4, frameWidth: 4 }),
        mainAnnotations,
      ],
    } as any);

    const inset = new Chart(insetRef.current as HTMLCanvasElement, {
      type: 'scatter',
      data: {
        datasets: [
          {
            label: 'core',
            data: toXY(insetCore),
            pointRadius: 12,
            pointHoverRadius: 12,
            pointBorderWidth: 0,
            pointBackgroundColor: '#000',
            pointBorderColor: '#000',
          },
          {
            label: 'W',
            data: toXY([...insetBaseline, ...insetLeftEdge, ...insetRightEdge, ...insetHollow]),
            pointRadius: 3.6,
            pointHoverRadius: 3.6,
            pointBorderWidth: 3.4,
            pointBorderColor: '#000',
            pointBackgroundColor: 'rgba(0,0,0,0)',
          },
          {
            label: 'HOMO',
            data: [{ x: homoLineE, y: levelLineTopW }, { x: homoLineE, y: 0 }],
            showLine: true,
            borderColor: '#000',
            borderWidth: 4,
            borderDash: [24, 9],
            pointRadius: 0,
            fill: false,
          },
          {
            label: 'LUMO',
            data: [{ x: lumoLineE, y: levelLineTopW }, { x: lumoLineE, y: 0 }],
            showLine: true,
            borderColor: '#000',
            borderWidth: 4,
            borderDash: [24, 9],
            pointRadius: 0,
            fill: false,
          },
        ],
      },
      options: {
        responsive: false,
        animation: false,
        devicePixelRatio: 1,
        events: [],
        layout: { padding: { top: 30, right: 26, left: 0, bottom: 0 } },
        plugins: { legend: { display: false }, tooltip: { enabled: false } },
        scales: {
          x: {
            type: 'linear', min: -20, max: 15,
            afterBuildTicks: (s: any) => { s.ticks = insetXMajor.map((v) => ({ value: v })); },
            ticks: { font: { family: SERIF, size: 36, lineHeight: 1 }, color: '#000', padding: 13, maxRotation: 0, autoSkip: false, callback: (v: any) => String(v) },
            grid: { display: false, drawTicks: false },
            border: { display: false },
            title: { display: true, text: 'ENERGY (eV)', color: '#000', font: { family: SERIF, size: 37, lineHeight: 1 }, padding: { top: 0, bottom: 8 } },
            afterFit: fixAxis({ height: 97 }),
          },
          y: {
            type: 'linear', min: 0, max: 800,
            afterBuildTicks: (s: any) => { s.ticks = insetYMajor.map((v) => ({ value: v })); },
            ticks: { font: { family: SERIF, size: 36, lineHeight: 1 }, color: '#000', padding: 13, autoSkip: false, callback: (v: any) => String(v) },
            grid: { display: false, drawTicks: false },
            border: { display: false },
            title: { display: true, text: 'W', color: '#000', font: { family: SERIF, size: 37, lineHeight: 1 }, padding: { top: 5, bottom: 0 } },
            afterFit: fixAxis({ width: 116 }),
          },
        },
      },
      plugins: [
        framePlugin('insetFrame', { xMajor: insetXMajor, xMinor: insetXMinor, yMajor: insetYMajor, yMinor: insetYMinor, majorLen: 17, minorLen: 9, tickWidth: 3, frameWidth: 4 }),
        insetAnnotations,
      ],
    } as any);

    return () => {
      main.destroy();
      inset.destroy();
    };
  }, []);

  return (
    <div style={{ position: 'absolute', left: 0, top: 0, width: 1158, height: 841, background: '#fff' }}>
      <canvas ref={mainRef} width={1158} height={841} style={{ position: 'absolute', left: 0, top: 0, width: 1158, height: 841 }} />
      <canvas ref={insetRef} width={720} height={490} style={{ position: 'absolute', left: 240, top: 20, width: 720, height: 490 }} />
    </div>
  );
}
